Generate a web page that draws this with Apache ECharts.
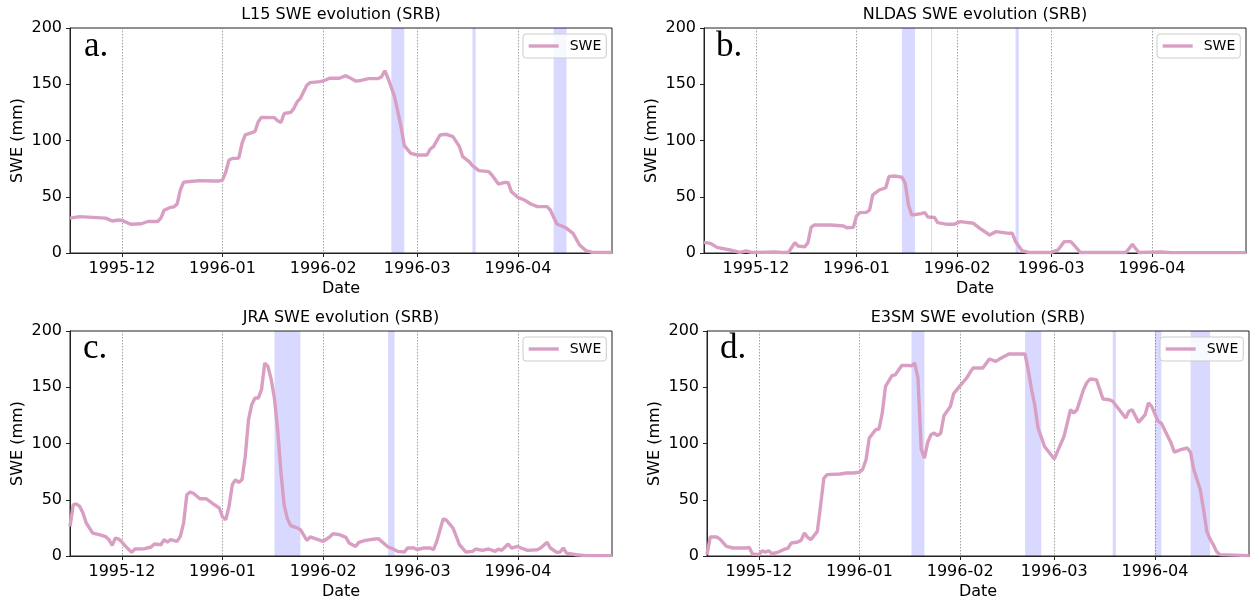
<!DOCTYPE html>
<html>
<head>
<meta charset="utf-8">
<script src="https://cdn.jsdelivr.net/npm/echarts@6/dist/echarts.min.js"></script>
<style>
html,body{margin:0;padding:0;background:#fff;}
#chart{width:1250px;height:601px;}
</style>
</head>
<body>
<div id="chart"></div>
<script>
// ---------- data ----------
const panelTitles = ['L15 SWE evolution (SRB)', 'NLDAS SWE evolution (SRB)', 'JRA SWE evolution (SRB)', 'E3SM SWE evolution (SRB)'];
const panelLetters = ['a.', 'b.', 'c.', 'd.'];
const xStart = '1995-11-15';
const xEnd = '1996-04-30';
const yTicks = [0, 50, 100, 150, 200];

const l15SWE = [
['1995-11-15',31],['1995-11-18',32.3],['1995-11-26',31],['1995-11-28',28.4],['1995-11-30',29.3],['1995-12-01',29],['1995-12-03',26.4],['1995-12-04',25.5],['1995-12-07',26],['1995-12-09',28],['1995-12-12',28],['1995-12-13',31],['1995-12-14',38],['1995-12-16',40.6],['1995-12-17',41],['1995-12-18',43.5],['1995-12-19',56],['1995-12-20',63],['1995-12-22',63.6],['1995-12-25',64.3],['1995-12-29',64],['1995-12-31',64],['1996-01-01',65],['1996-01-02',72],['1996-01-03',82.7],['1996-01-04',84],['1996-01-06',84.3],['1996-01-07',97.5],['1996-01-08',105],['1996-01-10',107],['1996-01-11',108],['1996-01-12',116.7],['1996-01-13',120.6],['1996-01-17',120.3],['1996-01-18',117.6],['1996-01-19',116],['1996-01-20',124],['1996-01-22',125],['1996-01-23',128.6],['1996-01-24',134.5],['1996-01-25',137.5],['1996-01-27',149.3],['1996-01-28',151.4],['1996-01-31',152.3],['1996-02-01',152.9],['1996-02-03',155.3],['1996-02-06',155.3],['1996-02-08',157.6],['1996-02-09',156.1],['1996-02-11',152.9],['1996-02-12',153],['1996-02-15',155],['1996-02-18',155],['1996-02-19',156.7],['1996-02-20',162],['1996-02-21',155.3],['1996-02-23',139],['1996-02-25',112.3],['1996-02-26',95.4],['1996-02-28',88.6],['1996-03-01',87.1],['1996-03-04',87.1],['1996-03-05',92.4],['1996-03-06',94.5],['1996-03-08',104.9],['1996-03-10',105.5],['1996-03-12',103.4],['1996-03-14',94.5],['1996-03-15',85.6],['1996-03-17',81.2],['1996-03-18',77.6],['1996-03-20',73.2],['1996-03-23',72.3],['1996-03-24',69.3],['1996-03-26',61.3],['1996-03-28',62.8],['1996-03-29',62.5],['1996-03-30',54.5],['1996-04-01',49.5],['1996-04-03',47.1],['1996-04-05',43.6],['1996-04-07',41.2],['1996-04-10',41.2],['1996-04-11',38.2],['1996-04-13',25.8],['1996-04-15',23.4],['1996-04-16',21.9],['1996-04-18',17.5],['1996-04-20',7.1],['1996-04-22',2.1],['1996-04-24',0.6],['1996-04-30',0.4]
];
const nldasSWE = [
['1995-11-15',9.5],['1995-11-17',8.6],['1995-11-19',5],['1995-11-23',2.7],['1995-11-26',0.6],['1995-11-28',1.8],['1995-11-30',0.4],['1995-12-07',0.9],['1995-12-09',0.4],['1995-12-11',0.5],['1995-12-13',9.2],['1995-12-14',6.2],['1995-12-16',5.4],['1995-12-17',9],['1995-12-18',22.8],['1995-12-19',24.9],['1995-12-24',24.9],['1995-12-28',24],['1995-12-29',22.5],['1995-12-31',22.8],['1996-01-01',32.9],['1996-01-02',35.9],['1996-01-04',36.1],['1996-01-05',38.2],['1996-01-06',51.6],['1996-01-08',56],['1996-01-10',58],['1996-01-11',68],['1996-01-13',68.4],['1996-01-15',67.3],['1996-01-16',62],['1996-01-17',42.7],['1996-01-18',33.8],['1996-01-21',35],['1996-01-22',36],['1996-01-23',32],['1996-01-25',31.7],['1996-01-26',27],['1996-01-29',25.5],['1996-01-31',25.5],['1996-02-02',27.9],['1996-02-06',26.4],['1996-02-08',21.9],['1996-02-11',16],['1996-02-13',19],['1996-02-17',17.5],['1996-02-18',17.5],['1996-02-19',10.1],['1996-02-21',2],['1996-02-23',0.5],['1996-03-01',0.5],['1996-03-02',1.7],['1996-03-03',2.5],['1996-03-05',10.1],['1996-03-07',10.1],['1996-03-08',7.1],['1996-03-10',0.4],['1996-03-24',0.4],['1996-03-26',7.7],['1996-03-27',4],['1996-03-28',0.4],['1996-04-04',0.9],['1996-04-07',0.3],['1996-04-30',0.3]
];
const jraSWE = [
['1995-11-15',26.3],['1995-11-16',45.6],['1995-11-17',46.2],['1995-11-18',44.1],['1995-11-19',38.2],['1995-11-20',29.3],['1995-11-22',20.4],['1995-11-24',19],['1995-11-26',17.2],['1995-11-27',14.5],['1995-11-28',9.5],['1995-11-29',16],['1995-11-30',15],['1995-12-01',12.4],['1995-12-02',9],['1995-12-04',3.2],['1995-12-05',6.2],['1995-12-08',6.5],['1995-12-10',8],['1995-12-11',10.7],['1995-12-13',10],['1995-12-14',14.5],['1995-12-15',12.4],['1995-12-16',14.5],['1995-12-18',13],['1995-12-19',17.4],['1995-12-20',29.3],['1995-12-21',54.5],['1995-12-22',56.9],['1995-12-23',55.8],['1995-12-25',50.9],['1995-12-27',50.9],['1995-12-29',46.5],['1995-12-31',42.7],['1996-01-01',34.7],['1996-01-02',32.3],['1996-01-03',44.1],['1996-01-04',63.4],['1996-01-05',67.8],['1996-01-06',65.4],['1996-01-07',67.8],['1996-01-08',88.5],['1996-01-09',121.2],['1996-01-10',134.5],['1996-01-11',140.4],['1996-01-12',140.4],['1996-01-13',147.8],['1996-01-14',171.5],['1996-01-15',168.5],['1996-01-16',156.7],['1996-01-17',140],['1996-01-18',112],['1996-01-19',74],['1996-01-20',45],['1996-01-21',33],['1996-01-22',27],['1996-01-24',25],['1996-01-25',23.4],['1996-01-27',13.9],['1996-01-28',16.9],['1996-01-30',15],['1996-02-01',13],['1996-02-03',16.9],['1996-02-04',19.8],['1996-02-06',19],['1996-02-08',16.6],['1996-02-09',11.6],['1996-02-10',10],['1996-02-11',8.5],['1996-02-12',12.1],['1996-02-14',13.9],['1996-02-17',15.1],['1996-02-18',15.4],['1996-02-19',13],['1996-02-21',8],['1996-02-22',7.1],['1996-02-24',4.1],['1996-02-26',3.5],['1996-02-27',7.1],['1996-02-29',7.1],['1996-03-01',5.6],['1996-03-03',7.1],['1996-03-05',7.1],['1996-03-06',5.6],['1996-03-07',13],['1996-03-09',33.2],['1996-03-10',31.7],['1996-03-12',24.9],['1996-03-14',10],['1996-03-16',3.5],['1996-03-18',4.1],['1996-03-19',6.2],['1996-03-21',5],['1996-03-23',6.2],['1996-03-25',4.1],['1996-03-26',6.2],['1996-03-27',5],['1996-03-29',10.7],['1996-03-30',7.1],['1996-04-01',8.5],['1996-04-02',7.1],['1996-04-04',5],['1996-04-07',5.6],['1996-04-08',7.1],['1996-04-10',12.1],['1996-04-11',7.1],['1996-04-13',3.2],['1996-04-14',3.5],['1996-04-15',7.1],['1996-04-16',2.6],['1996-04-19',1.1],['1996-04-22',0.3],['1996-04-30',0.3]
];
const e3smSWE = [
['1995-11-15',1.2],['1995-11-16',16.9],['1995-11-18',16.9],['1995-11-19',15],['1995-11-21',8.5],['1995-11-23',7.1],['1995-11-27',7.1],['1995-11-28',7.7],['1995-11-29',1.8],['1995-12-01',1.2],['1995-12-02',4.7],['1995-12-03',3.5],['1995-12-04',4.7],['1995-12-05',2],['1995-12-07',3.5],['1995-12-09',6.2],['1995-12-10',7.1],['1995-12-11',11.6],['1995-12-13',12.4],['1995-12-14',13.9],['1995-12-15',20.4],['1995-12-16',16.6],['1995-12-17',14.5],['1995-12-19',21.9],['1995-12-20',45],['1995-12-21',69],['1995-12-22',72.3],['1995-12-26',72.9],['1995-12-28',73.8],['1995-12-30',73.8],['1996-01-01',74.4],['1996-01-02',77.3],['1996-01-03',85.6],['1996-01-04',104.9],['1996-01-06',112.3],['1996-01-07',112.9],['1996-01-08',127],['1996-01-09',150.8],['1996-01-11',160.3],['1996-01-12',161],['1996-01-14',169.4],['1996-01-16',169.4],['1996-01-17',169],['1996-01-18',171.5],['1996-01-19',158],['1996-01-20',95],['1996-01-21',87],['1996-01-22',101],['1996-01-23',107.8],['1996-01-24',109.3],['1996-01-25',107],['1996-01-26',109],['1996-01-27',124.7],['1996-01-29',133],['1996-01-30',144.3],['1996-02-01',151.4],['1996-02-03',158.2],['1996-02-04',163],['1996-02-05',167.1],['1996-02-08',167.1],['1996-02-10',175.1],['1996-02-12',173],['1996-02-13',174.8],['1996-02-16',179.6],['1996-02-21',179.6],['1996-02-22',165],['1996-02-23',148],['1996-02-24',134],['1996-02-25',113.8],['1996-02-27',97.4],['1996-03-01',86.2],['1996-03-02',93],['1996-03-04',106.3],['1996-03-06',130],['1996-03-07',127.1],['1996-03-08',130],['1996-03-10',147.8],['1996-03-11',154],['1996-03-12',157.3],['1996-03-14',156.7],['1996-03-16',139.5],['1996-03-18',138.9],['1996-03-19',137.5],['1996-03-23',122.7],['1996-03-24',128.6],['1996-03-25',130],['1996-03-27',118.8],['1996-03-29',125.6],['1996-03-30',136],['1996-03-31',133],['1996-04-02',119.7],['1996-04-03',118],['1996-04-06',100.4],['1996-04-07',92.4],['1996-04-09',94.5],['1996-04-11',96],['1996-04-12',92.1],['1996-04-13',76.7],['1996-04-15',58.9],['1996-04-16',41.2],['1996-04-17',21.9],['1996-04-18',15],['1996-04-19',10],['1996-04-20',4],['1996-04-21',1.2],['1996-04-30',0.3]
];

// shaded periods [start, end]
const l15Bands = [['1996-02-22','1996-02-26'],['1996-03-18','1996-03-19'],['1996-04-12','1996-04-16']];
const nldasBands = [['1996-01-15','1996-01-19'],['1996-02-19','1996-02-20']];
const jraBands = [['1996-01-17','1996-01-25'],['1996-02-21','1996-02-23']];
const e3smBands = [['1996-01-17','1996-01-21'],['1996-02-21','1996-02-26'],['1996-03-19','1996-03-20'],['1996-04-01','1996-04-03'],['1996-04-12','1996-04-18']];
// zero-width shaded periods (drawn as thin lines)
const l15Lines = [];
const nldasLines = ['1996-01-24'];
const jraLines = [];
const e3smLines = [];

// ---------- layout / style ----------
const seriesData = [l15SWE, nldasSWE, jraSWE, e3smSWE];
const bandData = [l15Bands, nldasBands, jraBands, e3smBands];
const lineData = [l15Lines, nldasLines, jraLines, e3smLines];
const grids = [
  {left:70, top:28, width:542, height:225},
  {left:704, top:28, width:542, height:225},
  {left:70, top:331, width:542, height:225},
  {left:707, top:331, width:542, height:225}
];
const legendPos = [{left:523, top:34}, {left:1157, top:34}, {left:523, top:337}, {left:1160, top:337}];
const letterPos = [{left:84, top:29}, {left:716, top:29}, {left:83, top:331}, {left:720, top:331}];
const LINE_COLOR = '#d99fc3';
const BAND_COLOR = 'rgba(0,0,255,0.15)';
const FONT = 'DejaVu Sans';
const DAY = 86400000;

const option = {
  animation: false,
  backgroundColor: '#ffffff',
  textStyle: {fontFamily: FONT},
  title: [],
  legend: [],
  grid: [],
  xAxis: [],
  yAxis: [],
  series: []
};

for (let i = 0; i < 4; i++) {
  const g = grids[i];
  option.grid.push(Object.assign({show: true, borderColor: '#222', borderWidth: 1, backgroundColor: 'transparent', containLabel: false}, g));
  option.title.push({
    text: panelTitles[i], left: g.left + g.width / 2, top: g.top - 21, textAlign: 'center', padding: 0,
    textStyle: {fontFamily: FONT, fontSize: 16, fontWeight: 'normal', color: '#000'}
  });
  option.title.push({
    text: panelLetters[i], left: letterPos[i].left, top: letterPos[i].top, padding: 0,
    textStyle: {fontFamily: 'Liberation Serif', fontSize: 35, fontWeight: 'normal', color: '#000'}
  });
  option.legend.push({
    data: ['SWE'], left: legendPos[i].left, top: legendPos[i].top, orient: 'horizontal',
    itemWidth: 30, itemHeight: 14, padding: [5, 5, 5, 4], selectedMode: false,
    borderColor: '#cccccc', borderWidth: 1, borderRadius: 3, backgroundColor: 'rgba(255,255,255,0.8)',
    textStyle: {fontFamily: FONT, fontSize: 14, color: '#000', padding: [0, 0, 0, 6]},
    itemStyle: {opacity: 0},
    lineStyle: {width: 3.4}
  });
  option.xAxis.push({
    type: 'time', gridIndex: i, min: xStart, max: xEnd,
    minInterval: 40 * DAY, splitNumber: 5,
    name: 'Date', nameLocation: 'middle', nameGap: 28,
    nameTextStyle: {fontFamily: FONT, fontSize: 16, color: '#000'},
    axisLine: {show: true, lineStyle: {color: '#222', width: 1}},
    axisTick: {show: true, length: 4, lineStyle: {color: '#222', width: 1}},
    axisLabel: {formatter: '{yyyy}-{MM}', fontFamily: FONT, fontSize: 16, color: '#000', margin: 8, showMinLabel: false, showMaxLabel: false, hideOverlap: false},
    splitLine: {show: true, lineStyle: {type: [1.5, 1.5], color: '#8a8a8a', width: 0.8}}
  });
  option.yAxis.push({
    type: 'value', gridIndex: i, min: yTicks[0], max: yTicks[yTicks.length - 1], interval: yTicks[1] - yTicks[0],
    name: 'SWE (mm)', nameLocation: 'middle', nameGap: 44,
    nameTextStyle: {fontFamily: FONT, fontSize: 16, color: '#000'},
    axisLine: {show: true, lineStyle: {color: '#222', width: 1}},
    axisTick: {show: true, length: 4, lineStyle: {color: '#222', width: 1}},
    axisLabel: {fontFamily: FONT, fontSize: 16, color: '#000', margin: 8},
    splitLine: {show: false}
  });
  option.series.push({
    name: 'SWE', type: 'line', xAxisIndex: i, yAxisIndex: i,
    data: seriesData[i], symbol: 'none', showSymbol: false,
    lineStyle: {color: LINE_COLOR, width: 3.4},
    itemStyle: {color: LINE_COLOR},
    z: 3,
    markArea: {
      silent: true,
      itemStyle: {color: BAND_COLOR, borderWidth: 0},
      data: bandData[i].map(b => [{xAxis: b[0]}, {xAxis: b[1]}])
    },
    markLine: {
      silent: true, symbol: 'none', label: {show: false},
      lineStyle: {color: BAND_COLOR, width: 1, type: 'solid'},
      data: lineData[i].map(d => ({xAxis: d}))
    }
  });
}

const chart = echarts.init(document.getElementById('chart'), null, {renderer: 'canvas'});
chart.setOption(option);
</script>
</body>
</html>
